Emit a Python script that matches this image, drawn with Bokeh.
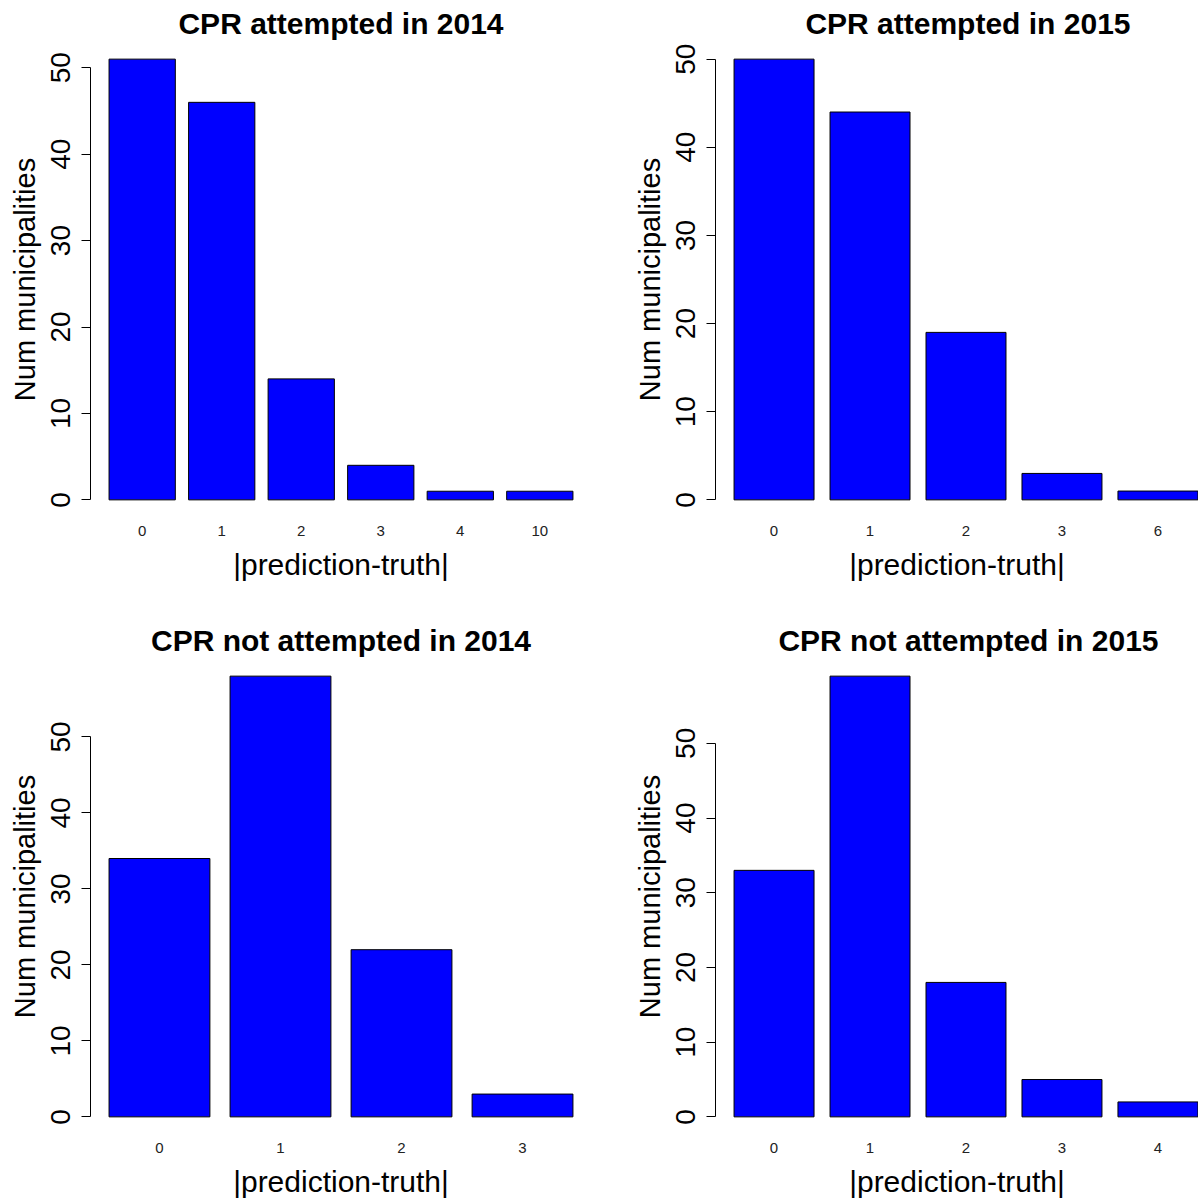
from bokeh.plotting import figure
from bokeh.layouts import column, row
from bokeh.models import Range1d, FixedTicker
from bokeh.embed import file_html
from bokeh.resources import INLINE

# ---------------- data ----------------
title_att_2014 = "CPR attempted in 2014"
labels_att_2014 = ["0", "1", "2", "3", "4", "10"]
counts_att_2014 = [51, 46, 14, 4, 1, 1]

title_att_2015 = "CPR attempted in 2015"
labels_att_2015 = ["0", "1", "2", "3", "6"]
counts_att_2015 = [50, 44, 19, 3, 1]

title_not_2014 = "CPR not attempted in 2014"
labels_not_2014 = ["0", "1", "2", "3"]
counts_not_2014 = [34, 58, 22, 3]

title_not_2015 = "CPR not attempted in 2015"
labels_not_2015 = ["0", "1", "2", "3", "4"]
counts_not_2015 = [33, 59, 18, 5, 2]

y_ticks = [0, 10, 20, 30, 40, 50]
x_title = "|prediction-truth|"
y_title = "Num municipalities"

# ---------------- style / layout ----------------
FONT = "Liberation Sans"
BAR_W = 1.0
BAR_SPACE = 0.2
PLOT_W = 501      # nominal plot-region width (px)
FRAME_H = 476
LEFT_W = 624
RIGHT_W = 574
TOP_H = 618
BOT_H = 584


def make_panel(title, labels, counts, width, height, border_left, border_top,
               title_align="center", title_offset=0):
    n = len(counts)
    centers = [BAR_SPACE + BAR_W / 2 + i * (BAR_W + BAR_SPACE) for i in range(n)]
    x_lo = BAR_SPACE
    x_hi = n * (BAR_W + BAR_SPACE)
    pad = 0.04 * (x_hi - x_lo)
    x_start = x_lo - pad
    full_span = (x_hi + pad) - x_start
    frame_w = min(width - border_left, PLOT_W)
    x_end = x_start + full_span * frame_w / PLOT_W
    border_right = width - border_left - frame_w

    ymax = max(counts)
    p = figure(width=width, height=height,
               x_range=Range1d(x_start, x_end),
               y_range=Range1d(-0.04 * ymax, 1.04 * ymax),
               output_backend="svg", toolbar_location=None,
               min_border_left=border_left, min_border_right=border_right,
               min_border_top=border_top,
               min_border_bottom=height - border_top - FRAME_H)
    p.outline_line_color = None
    p.xgrid.visible = False
    p.ygrid.visible = False
    p.background_fill_color = "white"
    p.border_fill_color = "white"

    p.vbar(x=centers, width=BAR_W, bottom=0, top=counts,
           fill_color="#0000FF", line_color="black", line_width=1)

    # title
    p.title.text = title
    p.title.text_font = FONT
    p.title.text_font_size = "30px"
    p.title.text_font_style = "bold"
    p.title.text_color = "black"
    p.title.align = title_align
    p.title.offset = title_offset
    p.title.standoff = 4

    # x axis (bar names only)
    xa = p.xaxis[0]
    xa.ticker = FixedTicker(ticks=centers)
    xa.major_label_overrides = {c: lab for c, lab in zip(centers, labels)}
    xa.axis_line_color = None
    xa.major_tick_line_color = None
    xa.minor_tick_line_color = None
    xa.major_tick_out = 0
    xa.major_tick_in = 0
    xa.major_label_text_font = FONT
    xa.major_label_text_font_size = "15px"
    xa.major_label_text_color = "#222222"
    xa.major_label_standoff = 8
    xa.axis_label = x_title
    xa.axis_label_text_font = FONT
    xa.axis_label_text_font_size = "30px"
    xa.axis_label_text_font_style = "normal"
    xa.axis_label_text_color = "black"
    xa.axis_label_standoff = 9

    # y axis
    ya = p.yaxis[0]
    ya.ticker = FixedTicker(ticks=y_ticks)
    ya.bounds = (y_ticks[0], y_ticks[-1])
    ya.axis_line_color = "black"
    ya.axis_line_width = 1
    ya.major_tick_line_color = "black"
    ya.major_tick_out = 9
    ya.major_tick_in = 0
    ya.minor_tick_line_color = None
    ya.major_label_orientation = "vertical"
    ya.major_label_text_font = FONT
    ya.major_label_text_font_size = "28px"
    ya.major_label_text_color = "black"
    ya.major_label_standoff = 11
    ya.axis_label = y_title
    ya.axis_label_text_font = FONT
    ya.axis_label_text_font_size = "29px"
    ya.axis_label_text_font_style = "normal"
    ya.axis_label_text_color = "black"
    ya.axis_label_standoff = 8
    return p


p1 = make_panel(title_att_2014, labels_att_2014, counts_att_2014, LEFT_W, TOP_H, 90, 41)
p2 = make_panel(title_att_2015, labels_att_2015, counts_att_2015, RIGHT_W, TOP_H, 91, 41,
                title_align="right", title_offset=68)
p3 = make_panel(title_not_2014, labels_not_2014, counts_not_2014, LEFT_W, BOT_H, 90, 40)
p4 = make_panel(title_not_2015, labels_not_2015, counts_not_2015, RIGHT_W, BOT_H, 91, 40,
                title_align="right", title_offset=40)

layout = column(row(p1, p2, spacing=0), row(p3, p4, spacing=0), spacing=0)

open("out.html", "w").write(file_html(layout, INLINE))
